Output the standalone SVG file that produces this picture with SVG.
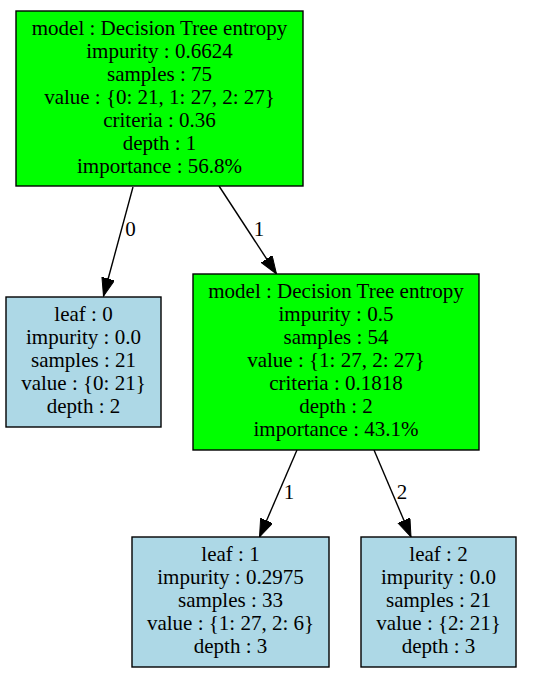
<svg xmlns="http://www.w3.org/2000/svg" width="555" height="685" viewBox="0 0 555 685">
<style>
text{font-family:"Liberation Serif","Times New Roman",serif;font-size:21px;fill:#000;text-anchor:middle}
.split{fill:#00ff00;stroke:#000;stroke-width:1.4}
.leaf{fill:#add8e6;stroke:#000;stroke-width:1.4}
.edge{stroke:#000;stroke-width:1.4;fill:none;marker-end:url(#arr)}
</style>
<defs>
<marker id="arr" markerUnits="userSpaceOnUse" markerWidth="19" markerHeight="14" refX="18" refY="6.5" orient="auto">
<path d="M0,0 L18,6.5 L0,13 z" fill="#000" stroke="#000" stroke-width="1"/>
</marker>
</defs>
<rect width="555" height="685" fill="#fff"/>
<g id="edges">
<line class="edge" x1="133" y1="187" x2="103.5" y2="296"/>
<line class="edge" x1="219" y1="186" x2="276.5" y2="274"/>
<line class="edge" x1="297" y1="450" x2="259.5" y2="537"/>
<line class="edge" x1="374" y1="450" x2="411" y2="537"/>
<text x="130.5" y="236">0</text>
<text x="259" y="236">1</text>
<text x="289" y="499">1</text>
<text x="402" y="499">2</text>
</g>
<g id="node0">
<rect class="split" x="16" y="11" width="287" height="175"/>
<text x="159.5" y="35">model : Decision Tree entropy</text>
<text x="159.5" y="58">impurity : 0.6624</text>
<text x="159.5" y="81">samples : 75</text>
<text x="159.5" y="104">value : {0: 21, 1: 27, 2: 27}</text>
<text x="159.5" y="127">criteria : 0.36</text>
<text x="159.5" y="150">depth : 1</text>
<text x="159.5" y="173">importance : 56.8%</text>
</g>
<g id="leaf0">
<rect class="leaf" x="6" y="297" width="155" height="130"/>
<text x="83.5" y="321">leaf : 0</text>
<text x="83.5" y="344">impurity : 0.0</text>
<text x="83.5" y="367">samples : 21</text>
<text x="83.5" y="390">value : {0: 21}</text>
<text x="83.5" y="413">depth : 2</text>
</g>
<g id="node1">
<rect class="split" x="193" y="274" width="286" height="176"/>
<text x="336" y="298">model : Decision Tree entropy</text>
<text x="336" y="321">impurity : 0.5</text>
<text x="336" y="344">samples : 54</text>
<text x="336" y="367">value : {1: 27, 2: 27}</text>
<text x="336" y="390">criteria : 0.1818</text>
<text x="336" y="413">depth : 2</text>
<text x="336" y="436">importance : 43.1%</text>
</g>
<g id="leaf1">
<rect class="leaf" x="132" y="537" width="197" height="130"/>
<text x="230.5" y="561">leaf : 1</text>
<text x="230.5" y="584">impurity : 0.2975</text>
<text x="230.5" y="607">samples : 33</text>
<text x="230.5" y="630">value : {1: 27, 2: 6}</text>
<text x="230.5" y="653">depth : 3</text>
</g>
<g id="leaf2">
<rect class="leaf" x="361" y="537" width="155" height="130"/>
<text x="438.5" y="561">leaf : 2</text>
<text x="438.5" y="584">impurity : 0.0</text>
<text x="438.5" y="607">samples : 21</text>
<text x="438.5" y="630">value : {2: 21}</text>
<text x="438.5" y="653">depth : 3</text>
</g>
</svg>
